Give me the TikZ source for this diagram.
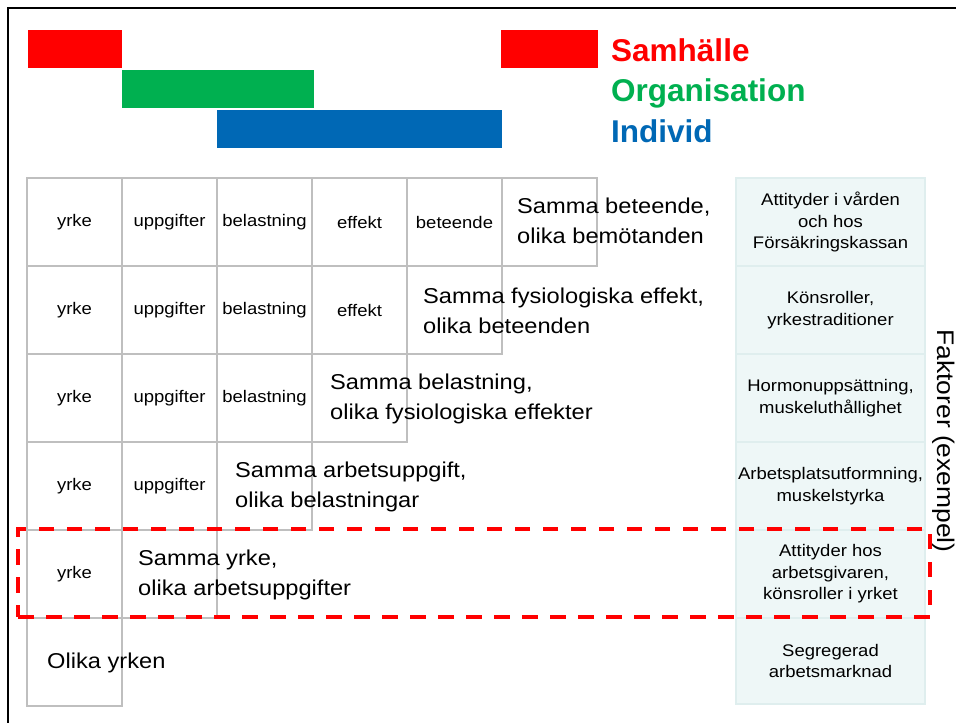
\documentclass[tikz,border=0pt]{standalone}
\usepackage{fontspec}
\setmainfont{Liberation Sans}[FakeStretch=1.1]
\newfontfamily\legfont{Liberation Sans}
\definecolor{gridgray}{HTML}{BFBFBF}
\definecolor{facfill}{HTML}{EEF7F7}
\definecolor{facborder}{HTML}{DFEEEE}
\definecolor{sred}{HTML}{FF0000}
\definecolor{sgreen}{HTML}{00B050}
\definecolor{sblue}{HTML}{0068B5}
\begin{document}
\begin{tikzpicture}[x=1pt,y=-1pt,
  cell/.style={draw=gridgray, line width=2pt, minimum width=95pt, minimum height=88pt,
    inner sep=0pt, outer sep=0pt, anchor=north west, font=\fontsize{16.8}{20}\selectfont},
  big/.style={anchor=west, align=left, inner sep=0pt, font=\fontsize{21.5}{30}\selectfont},
  fac/.style={draw=facborder, fill=facfill, line width=1.5pt, minimum width=189pt,
    minimum height=88pt, anchor=north west, align=center, inner sep=0pt, outer sep=0pt,
    font=\fontsize{16.8}{21.5}\selectfont},
  bar/.style={inner sep=0pt, outer sep=0pt, anchor=north west, minimum height=38pt},
  leg/.style={anchor=base west, inner sep=0pt, font=\legfont\bfseries\fontsize{31.5}{38}\selectfont}
]
\useasboundingbox (0,0) rectangle (956,723);
\fill[white] (0,0) rectangle (956,723);
% frame
\draw[line width=2.5pt] (8,723) -- (8,8) -- (956,8);

% legend bars
\node[bar, fill=sred, minimum width=94pt] (r1) at (28,30) {};
\node[bar, fill=sgreen, minimum width=192pt] (g1) at (122,70) {};
\node[bar, fill=sblue, minimum width=285pt] (b1) at (217,110) {};
\node[bar, fill=sred, minimum width=97pt] (r2) at (501,30) {};
\node[leg, text=sred] (lsam) at (611,61) {Samhälle};
\node[leg, text=sgreen] (lorg) at (611,101.5) {Organisation};
\node[leg, text=sblue] (lind) at (611,142) {Individ};

% grid row 1
\node[cell] (a1) at (27,178) {yrke};
\node[cell] (a2) at (122,178) {uppgifter};
\node[cell] (a3) at (217,178) {belastning};
\node[cell] (a4) at (312,178) {effekt};
\node[cell] (a5) at (407,178) {beteende};
\node[cell] (a6) at (502,178) {};
% row 2
\node[cell] (b1c) at (27,266) {yrke};
\node[cell] (b2) at (122,266) {uppgifter};
\node[cell] (b3) at (217,266) {belastning};
\node[cell] (b4) at (312,266) {effekt};
\node[cell] (b5) at (407,266) {};
% row 3
\node[cell] (c1) at (27,354) {yrke};
\node[cell] (c2) at (122,354) {uppgifter};
\node[cell] (c3) at (217,354) {belastning};
\node[cell] (c4) at (312,354) {};
% row 4
\node[cell] (d1) at (27,442) {yrke};
\node[cell] (d2) at (122,442) {uppgifter};
\node[cell] (d3) at (217,442) {};
% row 5
\node[cell] (e1) at (27,530) {yrke};
\node[cell] (e2) at (122,530) {};
% row 6
\node[cell] (f1) at (27,618) {};

% big texts
\node[big] (ta) at (517,221) {Samma beteende,\\olika bemötanden};
\node[big] (tb) at (423,311) {Samma fysiologiska effekt,\\olika beteenden};
\node[big] (tc) at (330,399) {Samma belastning,\\olika fysiologiska effekter};
\node[big] (td) at (235,487) {Samma arbetsuppgift,\\olika belastningar};
\node[big] (te) at (138,575) {Samma yrke,\\olika arbetsuppgifter};
\node[big] (tf) at (47,663) {Olika yrken};

% factor column
\node[fac] (fa) at (736,178) {Attityder i vården\\och hos\\Försäkringskassan};
\node[fac] (fb) at (736,266) {Könsroller,\\yrkestraditioner};
\node[fac] (fc) at (736,354) {Hormonuppsättning,\\muskeluthållighet};
\node[fac] (fd) at (736,442) {Arbetsplatsutformning,\\muskelstyrka};
\node[fac] (fe) at (736,530) {Attityder hos\\arbetsgivaren,\\könsroller i yrket};
\node[fac, minimum height=86pt] (ff) at (736,618) {Segregerad\\arbetsmarknad};

\node[rotate=-90, inner sep=0pt, font=\fontsize{24}{28}\selectfont] (fak) at (944,441) {Faktorer (exempel)};

% focus box
\node[draw=sred, line width=3.5pt, dash pattern=on 15.5pt off 12.5pt, inner sep=0pt,
  outer sep=0pt, anchor=north west, minimum width=912pt, minimum height=88pt] (focus) at (18,529) {};
\end{tikzpicture}
\end{document}
